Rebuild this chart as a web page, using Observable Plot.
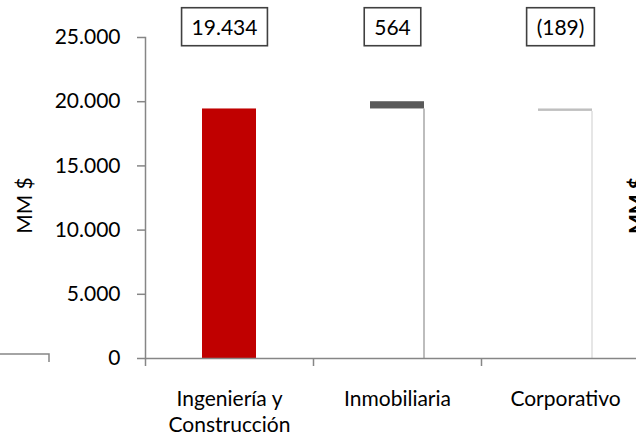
<!DOCTYPE html>
<html>
<head>
<meta charset="utf-8">
<script src="https://cdn.jsdelivr.net/npm/d3@7"></script>
<script src="https://cdn.jsdelivr.net/npm/@observablehq/plot@0.6"></script>
<style>
  html, body { margin: 0; padding: 0; background: #fff; }
  #chart { width: 636px; height: 438px; overflow: hidden; }
</style>
</head>
<body>
<div id="chart"></div>
<script>
// ---- data ----
const categories = ["Ingeniería y Construcción", "Inmobiliaria", "Corporativo"];
const categoryLabels = ["Ingeniería y\nConstrucción", "Inmobiliaria", "Corporativo"];
const values = [19434, 564, -189];          // MM $
const bases = [0, 19434, 19434];            // where each floating bar starts
const barColors = ["#C00000", "#595959", "#BFBFBF"];
const edgeColors = [null, "#9a9a9a", "#d9d9d9"];
const yTicks = [0, 5000, 10000, 15000, 20000, 25000];
const yLabel = "MM $";

const locale = d3.formatLocale({decimal: ",", thousands: ".", grouping: [3], currency: ["", ""]});
const fmtNum = locale.format(",d");
const fmtVal = v => v < 0 ? `(${fmtNum(-v)})` : fmtNum(v);

const rows = categories.map((c, i) => ({
  cat: c,
  label: categoryLabels[i],
  value: values[i],
  y1: bases[i],
  y2: bases[i] + values[i],
  fill: barColors[i],
  edge: edgeColors[i]
}));
const edgeRows = rows.filter(d => d.edge);
const labelOf = new Map(rows.map(d => [d.cat, d.label]));
const valueTexts = new Set(rows.map(d => fmtVal(d.value)));

const axisColor = "#868686";

const chart = Plot.plot({
  width: 636,
  height: 438,
  marginLeft: 145,
  marginRight: 0,
  marginTop: 37,
  marginBottom: 80,
  style: {fontFamily: "Lato, 'Open Sans', sans-serif", fontSize: "21px", color: "#000", background: "#fff"},
  x: {type: "band", domain: categories, range: [145, 649], paddingInner: 0.679, paddingOuter: 0.3395},
  y: {domain: [0, 25000]},
  marks: [
    Plot.frame({anchor: "left", stroke: axisColor, strokeWidth: 1.5}),
    Plot.barY(rows, {x: "cat", y1: "y1", y2: "y2", fill: "fill"}),
    Plot.ruleX(edgeRows, {x: "cat", y1: 0, y2: d => Math.min(d.y1, d.y2), stroke: "edge", strokeWidth: 1.3, dx: 26.5}),
    Plot.ruleY([0], {stroke: axisColor, strokeWidth: 1.5}),
    Plot.axisY({ticks: yTicks, tickSize: 8, tickPadding: 17, tickFormat: fmtNum, stroke: axisColor, strokeWidth: 1.5, label: null}),
    Plot.axisX({tickSize: 0, tickPadding: 29, lineHeight: 1.25, tickFormat: c => labelOf.get(c), label: null}),
    Plot.axisX({tickSize: 8, tickFormat: () => "", dx: 84, stroke: axisColor, strokeWidth: 1.5, label: null}),
    Plot.axisX({ticks: [categories[0]], tickSize: 8, tickFormat: () => "", dx: -84, stroke: axisColor, strokeWidth: 1.5, label: null}),
    Plot.text(rows, {x: "cat", text: d => fmtVal(d.value), frameAnchor: "top", dy: -9, dx: -5, lineAnchor: "middle", textAnchor: "middle", fill: "#000"}),
    Plot.text([yLabel], {frameAnchor: "left", textAnchor: "middle", rotate: -90, dx: -120, dy: 7.5, fill: "#000"}),
    Plot.text([yLabel], {frameAnchor: "right", textAnchor: "middle", rotate: -90, dx: 1, dy: 7.5, fill: "#000", fontWeight: "bold", fontSize: 21})
  ]
});

document.getElementById("chart").appendChild(chart);

// boxes round the value labels
const svg = d3.select(chart);
svg.selectAll("text").filter(function() {
  return valueTexts.has(this.textContent) && !this.closest('g[aria-label^="y-axis"]');
}).each(function() {
  const b = this.getBBox();
  const t = this.getAttribute("transform");
  const r = d3.select(this.parentNode).insert("rect", () => this)
    .attr("x", b.x - 10).attr("y", b.y - 6.5)
    .attr("width", b.width + 20).attr("height", b.height + 13)
    .attr("fill", "#fff").attr("stroke", "#404040").attr("stroke-width", 1.6);
  if (t) r.attr("transform", t);
});

// fragment of the neighbouring chart's axis at the left edge
const y0 = chart.scale("y").apply(0);
svg.append("path")
  .attr("d", `M0,${y0 - 4}H49V${y0 + 4}`)
  .attr("fill", "none").attr("stroke", axisColor).attr("stroke-width", 1.5);
</script>
</body>
</html>
